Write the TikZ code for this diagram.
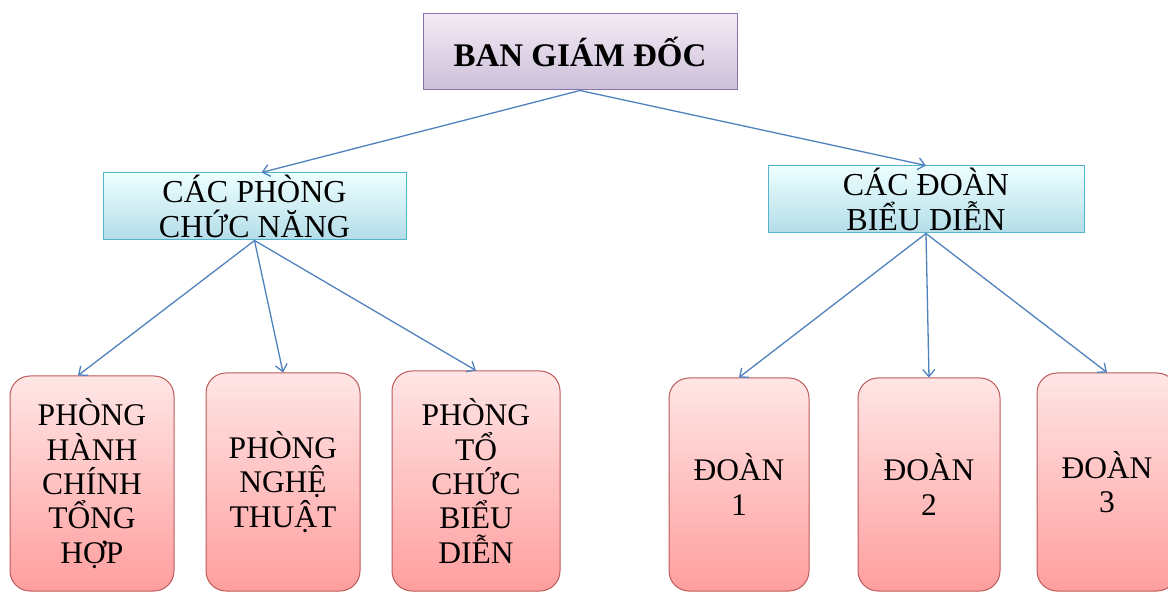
\documentclass[tikz,border=0pt]{standalone}
\usepackage{fontspec}
\setmainfont{Liberation Serif}
\usetikzlibrary{arrows.meta}

\definecolor{tim}{HTML}{8A72AA}
\definecolor{xanh}{HTML}{56B3CC}
\definecolor{hong}{HTML}{BE5A5A}
\definecolor{muiten}{HTML}{4F81BD}

\begin{document}
\begin{tikzpicture}[x=1pt, y=-1pt,
    giamdoc/.style={draw=tim, line width=1pt, top color=violet!8, bottom color=tim!45,
        inner sep=0pt, font=\fontsize{33}{38}\selectfont\bfseries},
    khoi/.style={draw=xanh, line width=1pt, top color=cyan!7, bottom color=xanh!45,
        inner sep=0pt, align=center, minimum height=67pt, font=\fontsize{32}{35}\selectfont},
    donvi/.style={draw=hong, line width=1pt, rounded corners=20pt, top color=red!10,
        bottom color=red!38, inner sep=0pt, align=center, font=\fontsize{31.5}{34.3}\selectfont},
    noi/.style={muiten, line width=1.3pt, -{Straight Barb[length=7pt,width=12pt]}}]

	\useasboundingbox (0,0) rectangle (1168,593);
	\clip (0,0) rectangle (1168,593);

    \node[giamdoc, minimum width=314pt, minimum height=76pt] (bgd) at (580, 52) {BAN GIÁM ĐỐC};

    \node[khoi, minimum width=303pt] (cpcn) at (254.5, 206.5) {CÁC PHÒNG\\CHỨC NĂNG};
    \node[khoi, minimum width=316pt] (cdbd) at (926, 199.5) {CÁC ĐOÀN\\BIỂU DIỄN};

    \node[donvi, minimum width=164pt, minimum height=215pt] (hcth) at (92, 483.5)
        {PHÒNG\\HÀNH\\CHÍNH\\TỔNG\\HỢP};
    \node[donvi, minimum width=154pt, minimum height=218pt] (nt) at (283, 482) {PHÒNG\\NGHỆ\\THUẬT};
    \node[donvi, minimum width=168pt, minimum height=220pt] (tcbd) at (476, 481)
        {PHÒNG\\TỔ\\CHỨC\\BIỂU\\DIỄN};
    \node[donvi, minimum width=140pt, minimum height=213pt] (d1) at (739, 484.5) {ĐOÀN\\1};
    \node[donvi, minimum width=142pt, minimum height=213pt] (d2) at (929, 484.5) {ĐOÀN\\2};
    \node[donvi, minimum width=140pt, minimum height=218pt] (d3) at (1107, 482) {ĐOÀN\\3};

    \draw[noi] (bgd.south) -- ([xshift=7pt]cpcn.north);
    \draw[noi] (bgd.south) -- (cdbd.north);

    \draw[noi] (cpcn.south) -- ([xshift=-14pt]hcth.north);
    \draw[noi] (cpcn.south) -- (nt.north);
    \draw[noi] (cpcn.south) -- (tcbd.north);

    \draw[noi] (cdbd.south) -- (d1.north);
    \draw[noi] (cdbd.south) -- (d2.north);
    \draw[noi] (cdbd.south) -- (d3.north);

\end{tikzpicture}
\end{document}
